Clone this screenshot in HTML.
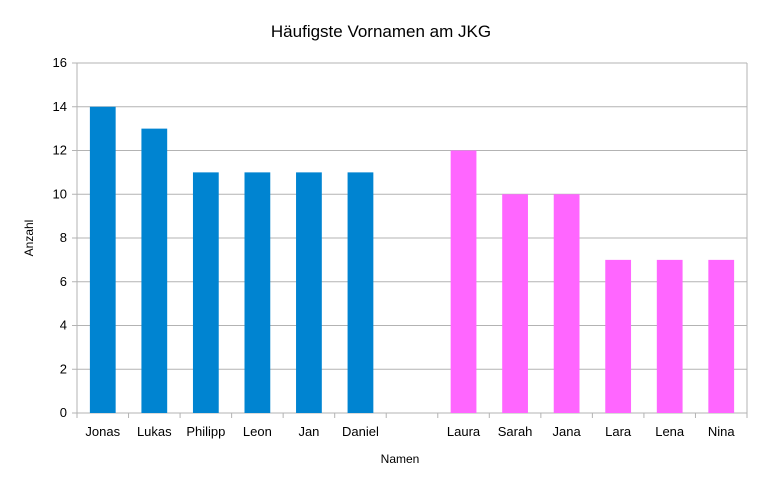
<!DOCTYPE html>
<html><head><meta charset="utf-8"><style>
body{margin:0;background:#fff;font-family:"Liberation Sans",sans-serif;}
svg text{font-family:"Liberation Sans",sans-serif;}
</style></head><body>
<svg id="chart" width="762" height="486">
<text x="381" y="37" text-anchor="middle" font-size="17" fill="#000">Häufigste Vornamen am JKG</text>
<text x="400" y="463" text-anchor="middle" font-size="12">Namen</text>
<text x="33" y="238" text-anchor="middle" font-size="12" transform="rotate(-90 33 238)">Anzahl</text>
<g id="grid"></g><g id="bars"></g><g id="axes"></g>
</svg>
<script>
const categories=["Jonas","Lukas","Philipp","Leon","Jan","Daniel","","Laura","Sarah","Jana","Lara","Lena","Nina"];
const values=[14,13,11,11,11,11,null,12,10,10,7,7,7];
const groups=["m","m","m","m","m","m","","f","f","f","f","f","f"];
const yTicks=[0,2,4,6,8,10,12,14,16];
const L=77,R=747,T=63,B=413,yMax=16;
const cw=(R-L)/categories.length;
const y=v=>B-(v/yMax)*(B-T);
const x=i=>L+i*cw;
const NS="http://www.w3.org/2000/svg";
function mk(tag,attrs,parent){const e=document.createElementNS(NS,tag);for(const k in attrs)e.setAttribute(k,attrs[k]);document.getElementById(parent).appendChild(e);return e;}
yTicks.forEach(t=>{
  const l=mk("line",{x1:L-5,x2:R,y1:y(t),y2:y(t),stroke:"#b3b3b3","stroke-width":1},"grid");
  
  
  const tx=mk("text",{x:L-10,y:y(t)+4,"text-anchor":"end","font-size":"13"},"axes");
  tx.textContent=t;
  
  
});
mk("line",{x1:L,x2:L,y1:T,y2:B,stroke:"#b3b3b3"},"axes");
mk("line",{x1:R,x2:R,y1:T,y2:B+5,stroke:"#b3b3b3"},"axes");
categories.forEach((c,i)=>{
  const tk=mk("line",{x1:x(i),x2:x(i),y1:B,y2:B+5,stroke:"#b3b3b3"},"axes");
  
  
  if(values[i]!=null){
    const bw=cw*0.5;
    const r=mk("rect",{x:x(i)+(cw-bw)/2,y:y(values[i]),width:bw,height:B-y(values[i]),fill:groups[i]==="m"?"#0084d1":"#ff66ff"},"bars");
    
    
  }
  const t=mk("text",{x:x(i)+cw/2,y:B+23,"text-anchor":"middle","font-size":"13"},"axes");
  t.textContent=c;
  
  
});
</script>
</body></html>
